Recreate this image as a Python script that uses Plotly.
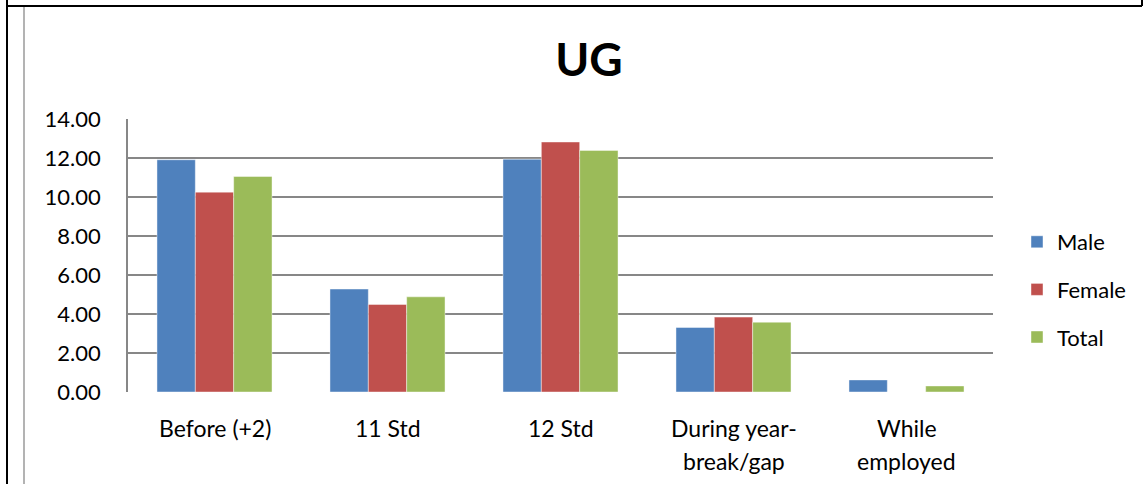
import plotly.graph_objects as go

# Data
categories = ["Before (+2)", "11 Std", "12 Std", "During year-<br>break/gap", "While<br>employed"]
male = [11.91, 5.28, 11.94, 3.31, 0.62]
female = [10.25, 4.49, 12.82, 3.84, 0.0]
total = [11.05, 4.88, 12.39, 3.58, 0.31]
series_names = ["Male", "Female", "Total"]
y_ticks = [0, 2, 4, 6, 8, 10, 12, 14]

colors = ["#4F81BD", "#C0504D", "#9BBB59"]
FONT = "Lato, 'Open Sans', sans-serif"
FS = 22

W, H = 1145, 484
ML, MR, MT, MB = 128, 152, 119, 92
PW, PH = W - ML - MR, H - MT - MB


def px_x(px):
    return (px - ML) / PW


def px_y(py):
    return (H - MB - py) / PH


fig = go.Figure()
for i, (name, vals) in enumerate(zip(series_names, [male, female, total])):
    fig.add_trace(go.Bar(
        x=list(range(len(categories))), y=vals, name=name,
        legendgroup=name,
        marker=dict(color=colors[i], line=dict(color="rgba(255,255,255,0.55)", width=0.8)),
    ))

# Category labels, one annotation per line
annotations = []
for ci, cat in enumerate(categories):
    for li, line in enumerate(cat.split("<br>")):
        annotations.append(dict(
            x=ci, xref="x", y=px_y(428 + 33 * li), yref="paper",
            text=line, showarrow=False, xanchor="center", yanchor="middle",
            font=dict(family=FONT, size=23, color="#000"),
        ))

# Frame lines around the chart block
shapes = [
    dict(type="line", xref="paper", yref="paper", x0=px_x(7), x1=px_x(1142), y0=px_y(6), y1=px_y(6),
         line=dict(color="#000", width=2)),
    dict(type="line", xref="paper", yref="paper", x0=px_x(7), x1=px_x(7), y0=px_y(0), y1=px_y(484),
         line=dict(color="#000", width=2)),
    dict(type="line", xref="paper", yref="paper", x0=px_x(1142), x1=px_x(1142), y0=px_y(0), y1=px_y(6),
         line=dict(color="#000", width=2)),
    dict(type="line", xref="paper", yref="paper", x0=px_x(24), x1=px_x(24), y0=px_y(7), y1=px_y(484),
         line=dict(color="#9a9a9a", width=1.5)),
]

fig.update_layout(
    width=W, height=H,
    margin=dict(l=ML, r=MR, t=MT, b=MB, pad=0),
    paper_bgcolor="white", plot_bgcolor="white",
    barmode="group", bargap=0.335, bargroupgap=0,
    font=dict(family=FONT, size=FS, color="#000"),
    title=dict(text="<b>UG</b>", x=px_x(589), xref="paper", xanchor="center",
               y=1 - 60 / H, yref="container", yanchor="middle",
               font=dict(family=FONT, size=46, color="#000")),
    xaxis=dict(range=[-0.5, len(categories) - 0.5], showticklabels=False, showgrid=False,
               zeroline=False, showline=False, ticks=""),
    yaxis=dict(range=[0, 14], tickvals=y_ticks, tickformat=".2f", showgrid=True,
               gridcolor="#878787", gridwidth=1.6, zeroline=False, showline=True,
               linecolor="#878787", linewidth=1.6, ticks="", ticklabelstandoff=21,
               tickfont=dict(family=FONT, size=FS, color="#000")),
    legend=dict(x=px_x(1017), y=px_y(221), xanchor="left", yanchor="top",
                traceorder="grouped", tracegroupgap=16, bgcolor="rgba(0,0,0,0)",
                font=dict(family=FONT, size=FS, color="#000")),
    annotations=annotations,
    shapes=shapes,
)

fig.write_html("out.html")
